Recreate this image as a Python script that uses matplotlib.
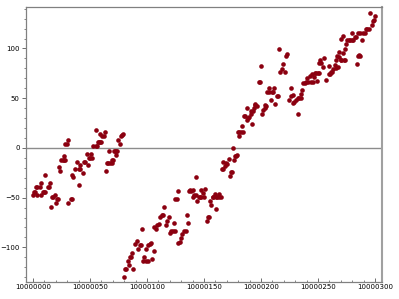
import matplotlib
matplotlib.use("Agg")
import matplotlib.pyplot as plt
from matplotlib.ticker import MultipleLocator

# x is stored as offset from 10000000
x_base = 10000000
x_offset = [
    0, 1, 2, 3, 4, 4, 6, 7, 7, 9, 10, 11, 11, 13, 14, 15, 16, 17, 18, 19,
    20, 21, 22, 23, 24, 25, 26, 27, 27, 28, 28, 30, 31, 31, 33, 34, 34, 35,
    37, 39, 40, 40, 41, 41, 44, 45, 46, 47, 48, 49, 50, 51, 52, 53, 55, 55,
    56, 57, 58, 59, 59, 60, 61, 62, 63, 64, 65, 66, 67, 68, 69, 69, 70, 71,
    72, 73, 73, 74, 75, 76, 77, 78, 79,
    80, 81, 82, 83, 84, 85, 86, 87, 88, 89.5, 91, 92, 93.5, 94.5, 95.5,
    96.5, 97.5, 99.5, 100.5, 99.5, 101, 102.5, 103.5, 104, 106, 106.5,
    107.5, 109, 110.5, 111.5, 113, 114, 115, 116.5, 117.5, 119, 120, 121.5,
    123, 124.5, 123.5, 125, 126.5, 127, 127.5, 129, 130, 131, 132.5, 134,
    135, 136, 137, 138, 139, 140, 140.5, 141.5, 143, 143, 144, 145.3, 146.5,
    147.6, 147.6, 148.8, 150, 151.2, 152.4, 153.5, 154.7, 155.3, 156.4,
    157.6, 158.2, 159.4, 160.5, 160.5, 161.5, 163.4, 163.5, 164.6, 165.8,
    167, 167, 168.2, 169.3, 170.4, 171.7, 172.8, 173.4, 174.6, 175.2, 176.3,
    176.9, 178, 179.2, 179.5, 180.5, 181, 182, 183.3, 184, 185.1, 186.2,
    187.4, 188, 189, 189.7, 191, 191.5, 192.1, 192.7, 193.9, 194.5, 195,
    196.2, 198, 199.1, 199.7, 200.9, 202, 203.2, 203.5, 204.4, 205.5, 206.7,
    207.3, 208.5, 209.6, 210.8, 211, 212.5, 213.8, 214.9, 215.5, 216.7, 218,
    219.6, 220.8, 222, 223.1, 224.8, 226.5, 226, 227.8, 228.4, 229, 230.5,
    232.5, 232.5, 233.7, 234.8, 235.4, 236, 237.1, 238.3, 239.5, 240.6,
    241.5, 242.7, 243.5, 244.5, 245.5, 246.5, 247, 248, 248.9, 249.5, 250.6,
    251.2, 251.8, 252.9, 254.1, 255.3, 257, 259.4, 259.9, 260.5, 261.1, 262,
    262.9, 264.6, 265.8, 265.8, 266.9, 267.5, 268.2, 268.7, 269.9, 270.5,
    270.5, 271.7, 272.2, 272.8, 273.4, 274, 274.6, 275.7, 277, 278.2, 279.4,
    280.4, 280, 282.2, 283.3, 284.5, 285, 286, 286.8, 285, 287, 288.6, 289.5,
    290.9, 292, 293.3, 294.5, 295.6, 297.4, 298.5, 299, 299.7,
]
y_value = [
    -47.6, -44.3, -44.3, -39.6, -39.6, -47.6, -39.6, -35.6, -47.6, -44.3,
    -44.3, -27.5, -44.3, -39.6, -39.6, -35.6, -59.7, -49.7, -49.7, -47.6,
    -55.7, -51.7, -51.7, -19.5, -23.5, -12.1, -12.1, -8.1, -12.1, -12.1, 4.0,
    4.0, 8.1, -55.7, -51.7, -51.7, -27.5, -29.5, -21.5, -14.0, -37.6, -21.0,
    -21.5, -17.6, -25.5, -14.1, -14.1, -6.0, -17.4, -10.1, -10.1, -6.0,
    -10.1, 2.0, 2.0, 18.1, 2.0, 6.0, 6.0, 6.0, 14.1, 6.0, 12.1, 12.1, 16.1,
    -23.5, -15.4, -15.4, -3.4, -15.4, -15.4, -12.1, -12.1, -3.4, -3.4, -3.4,
    -7.4, -3.4, 8.1, 4.0, 12.1, 13.4, 14.1,
    -129.5, -122, -122, -113.4, -118, -110, -110, -106, -121.4, -96.6,
    -93.9, -101.3, -97.9, -97.9, -81.8, -113.4, -110, -113.4, -113.4,
    -101.9, -97.9, -96.6, -95.3, -112, -103.9, -79.8, -81.8, -77.8, -76.5,
    -69.7, -67.7, -67.7, -59.7, -77.8, -73.7, -69.7, -85.2, -83.2, -83.2,
    -83.2, -75.8, -51.6, -51.6, -43.6, -95.9, -94.6, -90.5, -86.5, -83.2,
    -83.2, -67.1, -75.1, -43.6, -42.6, -43, -42.3, -49, -47.6, -47.6, -28.9,
    -53, -49.6, -49.6, -49.6, -41.9, -45.6, -49.6, -41.6, -73.4, -69.4,
    -69.4, -53.3, -57.3, -49.3, -49.3, -46, -49.3, -61.4, -49.3, -46, -49.3,
    -49.3, -21.1, -21.1, -13.8, -17.8, -15.1, -15.8, -11.1, -27.9, -23.8,
    -23.8, 0.3, -11.8, -7.7, -7.7, -7.4, 16.1, 12.1, 16.1, 16.1, 22.1, 16.1,
    32.2, 32.2, 40.2, 28.2, 30.2, 31, 34.2, 37.6, 24.1, 37.6, 40.2, 43,
    44.3, 42.3, 66.4, 66.4, 82.5, 34.2, 38.2, 40.2, 43.3, 42.3, 56.3, 56.3,
    60.4, 48.3, 56.3, 56.3, 60.4, 44.3, 52.3, 52.3, 99.9, 76, 79.8, 84.5, 76,
    92.5, 94.6, 48.3, 60.5, 52.3, 45.6, 53, 46, 48.3, 50.3, 34.5, 50.3, 50.3,
    54.3, 58.3, 65.1, 65.7, 66.4, 70, 66.4, 72, 66.4, 74.5, 66.4, 71.1, 75.8,
    75.8, 67.5, 75.8, 75.8, 85.2, 88.5, 85.2, 81.8, 90, 68.4, 74.4, 82.5,
    74.4, 76.5, 76.5, 79.8, 83.8, 80.5, 88.5, 92.6, 81.2, 96.6, 91.2, 88.5,
    88.5, 110, 112.7, 95.9, 88, 99.3, 88, 104, 108, 108, 108, 108, 108, 116,
    112, 112, 84.5, 92, 93, 92, 116, 116, 108, 116, 116, 120, 120, 120,
    136.1, 124, 128, 128.5, 132.8,
]

x = [x_base + v for v in x_offset]

fig = plt.figure(figsize=(3.99, 2.99), dpi=100)
ax = fig.add_axes([0.065, 0.058, 0.892, 0.918])

ax.scatter(x, y_value, s=11, color="#8b0010", linewidths=0, zorder=3)
ax.axhline(0, color="#8c8c8c", lw=1.0, zorder=2)

ax.set_xlim(x_base - 6.1, x_base + 305.9)
ax.set_ylim(-134.5, 141.5)
ax.ticklabel_format(useOffset=False, style="plain")
ax.xaxis.set_major_locator(MultipleLocator(50))
ax.xaxis.set_minor_locator(MultipleLocator(10))
ax.yaxis.set_major_locator(MultipleLocator(50))
ax.yaxis.set_minor_locator(MultipleLocator(10))

for side in ["left", "bottom", "top"]:
    ax.spines[side].set_color("#808080")
    ax.spines[side].set_linewidth(0.9)
ax.spines["right"].set_color("#a0a0a0")
ax.spines["right"].set_linewidth(1.5)

ax.tick_params(axis="both", which="major", labelsize=5, length=3, width=0.6,
               color="#555555", pad=1.5)
ax.tick_params(axis="both", which="minor", length=1.8, width=0.5, color="#555555")
ax.tick_params(axis="x", which="both", direction="in")

fig.savefig("out.png", dpi=100)
